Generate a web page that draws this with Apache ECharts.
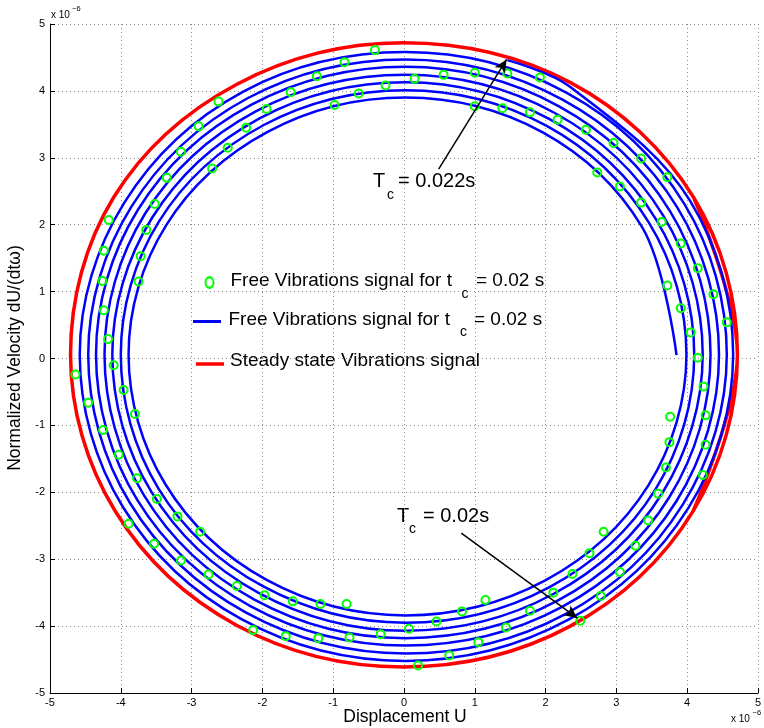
<!DOCTYPE html>
<html><head><meta charset="utf-8">
<script src="https://cdn.jsdelivr.net/npm/echarts@6/dist/echarts.min.js"></script>
<style>html,body{margin:0;padding:0;background:#fff}#c{width:764px;height:728px}</style>
</head><body><div id="c"></div>
<script>
const FONT = "'Liberation Sans', Arial, Helvetica, sans-serif";

// axis ticks (units of 1e-6)
const xTicks = [-5, -4, -3, -2, -1, 0, 1, 2, 3, 4, 5];
const yTicks = [-5, -4, -3, -2, -1, 0, 1, 2, 3, 4, 5];

// blue: free vibrations trajectory (spiral, clockwise, read every 30 degrees)
const spiralU = [1.46, 2.35, 4.04, 4.65, 4.02, 2.33, 0.02, -2.29, -3.97, -4.58, -3.95, -2.27, 0.02,
  2.30, 3.96, 4.56, 3.94, 2.28, 0.02, -2.23, -3.87, -4.46, -3.85, -2.21, 0.02,
  2.24, 3.86, 4.45, 3.85, 2.22, 0.02, -2.17, -3.77, -4.35, -3.76, -2.16, 0.02,
  2.19, 3.76, 4.33, 3.75, 2.17, 0.02, -2.12, -3.67, -4.23, -3.66, -2.10, 0.02,
  2.13, 3.66, 4.22, 3.65, 2.11, 0.02, -2.06, -3.57, -4.12, -3.56, -2.04, 0.02,
  2.07, 3.56, 4.10, 3.55, 2.05, 0.02, -2.00, -3.47, -4.00, -3.46, -1.98, 0.02,
  2.01, 3.46, 3.99, 3.45, 1.99, 0.02, -1.94, -3.37, -3.89, -3.36, -1.92, 0.02,
  1.96, 3.36, 3.85];
const spiralV = [4.46, 4.06, 2.36, 0.06, -2.23, -3.90, -4.52, -3.90, -2.22, 0.06, 2.33, 3.99, 4.58,
  3.97, 2.31, 0.06, -2.18, -3.82, -4.41, -3.80, -2.16, 0.06, 2.27, 3.89, 4.47,
  3.87, 2.26, 0.06, -2.13, -3.72, -4.29, -3.70, -2.11, 0.06, 2.22, 3.79, 4.36,
  3.77, 2.20, 0.06, -2.07, -3.62, -4.18, -3.60, -2.05, 0.06, 2.16, 3.69, 4.24,
  3.67, 2.14, 0.06, -2.01, -3.52, -4.07, -3.50, -1.99, 0.06, 2.10, 3.59, 4.13,
  3.57, 2.08, 0.06, -1.96, -3.42, -3.95, -3.40, -1.94, 0.06, 2.05, 3.49, 4.01,
  3.48, 2.03, 0.06, -1.90, -3.32, -3.84, -3.31, -1.88, 0.06, 1.99, 3.39, 3.90,
  3.38, 1.97, 0.05];

// red: steady state orbit (closed loop, read every 30 degrees, first/last repeated)
const steadyU = [4.08, 4.71, 4.09, 2.36, -0.01, -2.36, -4.10, -4.71, -4.08, -2.36, -0.01, 2.35, 4.08, 4.71, 4.09];
const steadyV = [-2.29, 0.06, 2.41, 4.12, 4.72, 4.10, 2.41, 0.06, -2.28, -3.99, -4.61, -4.00, -2.29, 0.06, 2.41];

// green circles: sampled free vibration points
const markerU = [-0.41,-0.84,-1.23,-0.26,-1.60,-0.64,-0.98,-2.62,-1.94,-2.90,-2.23,-3.15,-2.49,-2.71,-3.35,-3.52,-3.64,-4.17,-3.72,-4.24,-3.75,-4.26,-4.24,-4.18,
  0.15,0.56,1.00,1.46,1.92,1.00,1.39,1.78,2.17,2.57,2.96,3.35,3.72,2.73,3.05,3.35,3.64,3.91,4.15,4.37,4.56,3.72,3.91,4.05,4.15,
  -4.64,-4.10,-3.96,-4.46,-3.80,-4.25,-4.03,-3.77,-3.49,-3.20,-2.88,-3.89,-3.53,-3.15,-2.76,-2.36,-1.97,-1.57,-1.18,-0.81,-2.13,-1.67,-1.21,-0.77,-0.33,0.07,
  0.46,0.82,1.15,0.20,0.64,1.05,1.44,1.78,2.11,2.38,2.62,2.82,2.49,2.78,3.05,3.27,3.45,3.59,3.70,3.75,3.76,4.22,4.26,4.26,4.23];
const markerV = [4.61,4.43,4.22,4.08,3.98,3.96,3.79,3.84,3.73,3.47,3.45,3.09,3.15,2.84,2.70,2.31,1.92,2.07,1.53,1.61,1.15,1.16,0.72,0.29,
  4.18,4.24,4.27,4.26,4.20,3.77,3.74,3.68,3.57,3.42,3.22,2.99,2.71,2.78,2.57,2.33,2.04,1.72,1.35,0.96,0.54,1.09,0.75,0.39,0.01,
  -0.24,-0.10,-0.47,-0.66,-0.83,-1.07,-1.44,-1.79,-2.10,-2.36,-2.59,-2.47,-2.77,-3.02,-3.23,-3.40,-3.54,-3.63,-3.67,-3.67,-4.06,-4.15,-4.18,-4.17,-4.12,-4.04,
  -3.93,-3.78,-3.61,-4.59,-4.44,-4.24,-4.02,-3.77,-3.50,-3.22,-2.91,-2.59,-3.92,-3.55,-3.19,-2.80,-2.42,-2.02,-1.63,-1.25,-0.87,-1.74,-1.29,-0.85,-0.42];

// annotation arrows (tail, head) in data units
const arrowTop = [[0.49, 2.83], [1.45, 4.47]];
const arrowBottom = [[0.81, -2.61], [2.45, -3.88]];

const zip = (a, b) => a.map((v, i) => [v, b[i]]);

const axisCommon = (ticks) => ({
  type: 'value',
  min: ticks[0], max: ticks[ticks.length - 1], interval: ticks[1] - ticks[0],
  axisLine: { onZero: false, lineStyle: { color: '#000', width: 1 } },
  axisTick: { inside: true, length: 5, lineStyle: { color: '#000' } },
  splitLine: { show: true, lineStyle: { color: '#8a8a8a', width: 1, type: [1, 3] } },
  axisLabel: { color: '#000', fontSize: 11, fontFamily: FONT }
});

const chart = echarts.init(document.getElementById('c'), null, { renderer: 'canvas' });
const xAxis = axisCommon(xTicks); xAxis.axisLabel.margin = 4;
const yAxis = axisCommon(yTicks); yAxis.axisLabel.margin = 5;

const txt = (x, y, s, size, extra) => Object.assign({
  type: 'text', x: x, y: y,
  style: { text: s, fill: '#000', font: size + 'px ' + FONT, textVerticalAlign: 'middle', textAlign: 'left' }
}, extra || {});

chart.setOption({
  animation: false,
  backgroundColor: '#fff',
  grid: { left: 50, right: 3, top: 24, bottom: 35 },
  xAxis: xAxis,
  yAxis: yAxis,
  series: [
    { type: 'line', name: 'steady', data: zip(steadyU, steadyV), smooth: 0.35, showSymbol: false,
      lineStyle: { color: '#ff0000', width: 3.5 }, z: 2, silent: true },
    { type: 'line', name: 'free', data: zip(spiralU, spiralV), smooth: 0.35, showSymbol: false,
      lineStyle: { color: '#0000ff', width: 2.5 }, z: 3, silent: true },
    { type: 'scatter', name: 'samples', data: zip(markerU, markerV), symbol: 'circle', symbolSize: 8,
      itemStyle: { color: 'rgba(0,0,0,0)', borderColor: '#00ff00', borderWidth: 2, opacity: 1 }, z: 4, silent: true,
      markLine: {
        silent: true, symbol: ['none', 'arrow'], symbolSize: [9, 13], animation: false,
        lineStyle: { color: '#000', width: 1.5, type: 'solid' }, label: { show: false },
        data: [
          [{ coord: arrowTop[0] }, { coord: arrowTop[1] }],
          [{ coord: arrowBottom[0] }, { coord: arrowBottom[1] }]
        ]
      }
    }
  ],
  graphic: [
    // exponent labels
    txt(51, 15, 'x 10', 10),
    txt(72, 9, '\u22126', 7.5),
    txt(731, 719, 'x 10', 10),
    txt(752.5, 713, '\u22126', 7.5),
    // axis titles
    { type: 'text', x: 405, y: 717, style: { text: 'Displacement U', fill: '#000', font: '17.5px ' + FONT, textAlign: 'center', textVerticalAlign: 'middle' } },
    { type: 'text', x: 15, y: 358, rotation: Math.PI / 2, style: { text: 'Normalized Velocity dU/(dt\u03c9)', fill: '#000', font: '17.5px ' + FONT, textAlign: 'center', textVerticalAlign: 'middle' } },
    // annotations
    txt(373, 181, 'T', 20), txt(387, 195, 'c', 14), txt(398, 181, '= 0.022s', 20),
    txt(397, 516, 'T', 20), txt(409, 529, 'c', 14), txt(423, 516, '= 0.02s', 20),
    // legend
    { type: 'circle', x: 209.5, y: 282.5, scaleY: 1.3, shape: { cx: 0, cy: 0, r: 4 }, style: { fill: 'none', stroke: '#00ff00', lineWidth: 2 } },
    txt(230.5, 281, 'Free Vibrations signal for t', 19), txt(461.5, 294, 'c', 14), txt(476, 281, '= 0.02 s', 19),
    { type: 'line', shape: { x1: 193, y1: 321.5, x2: 221, y2: 321.5 }, style: { stroke: '#0000ff', lineWidth: 3 } },
    txt(228.5, 319.5, 'Free Vibrations signal for t', 19), txt(460, 332, 'c', 14), txt(474, 319.5, '= 0.02 s', 19),
    { type: 'line', shape: { x1: 196, y1: 364, x2: 224, y2: 364 }, style: { stroke: '#ff0000', lineWidth: 3.5 } },
    txt(230, 360.5, 'Steady state Vibrations signal', 19)
  ]
});
</script>
</body></html>
